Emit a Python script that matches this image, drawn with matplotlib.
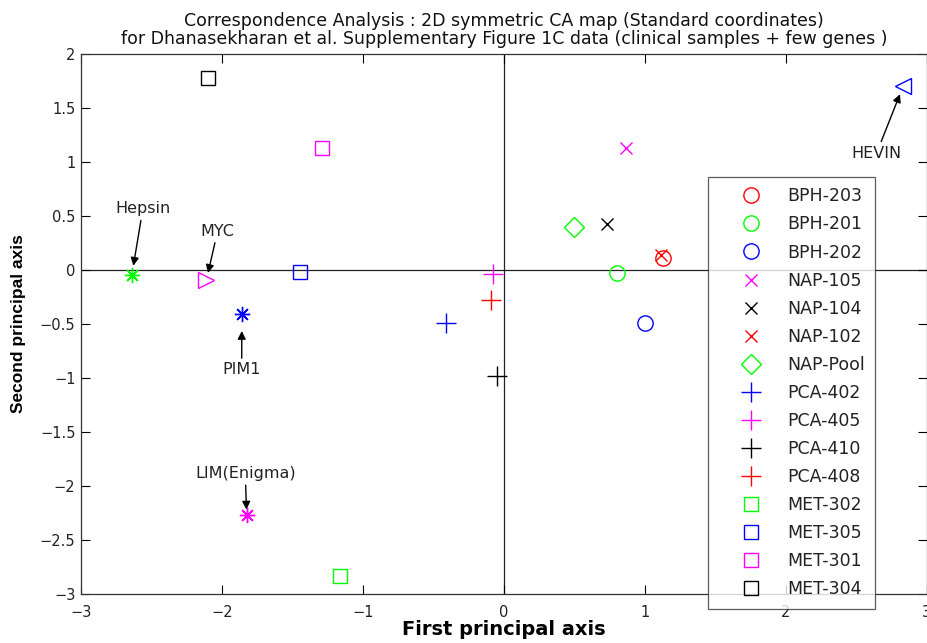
import matplotlib
matplotlib.use("Agg")
import matplotlib.pyplot as plt

# sample coordinates (standard coordinates)
samples = ["BPH-203", "BPH-201", "BPH-202", "NAP-105", "NAP-104", "NAP-102",
           "NAP-Pool", "PCA-402", "PCA-405", "PCA-410", "PCA-408",
           "MET-302", "MET-305", "MET-301", "MET-304"]
sample_x = [1.13, 0.80, 1.00, 0.865, 0.73, 1.11, 0.50, -0.41, -0.08, -0.05, -0.095,
            -1.16, -1.45, -1.29, -2.10]
sample_y = [0.115, -0.03, -0.49, 1.13, 0.43, 0.14, 0.40, -0.49, -0.04, -0.98, -0.28,
            -2.83, -0.02, 1.13, 1.78]
sample_marker = ["o", "o", "o", "x", "x", "x", "D", "+", "+", "+", "+",
                 "s", "s", "s", "s"]
sample_color = ["#ff0000", "#00ff00", "#0000ff", "#ff00ff", "#000000", "#ff0000",
                "#00ff00", "#0000ff", "#ff00ff", "#000000", "#ff0000",
                "#00ff00", "#0000ff", "#ff00ff", "#000000"]

# gene coordinates
genes = ["Hepsin", "MYC", "PIM1", "LIM(Enigma)", "HEVIN"]
gene_x = [-2.64, -2.11, -1.86, -1.825, 2.83]
gene_y = [-0.05, -0.09, -0.41, -2.27, 1.70]
gene_marker = [(8, 2, 0), ">", (8, 2, 0), (8, 2, 0), "<"]
gene_color = ["#00ff00", "#ff00ff", "#0000ff", "#ff00ff", "#0000ff"]
# label offset from the point (points) and arrow gap at the point
gene_offset = [(8, 48), (8, 35), (0, -40), (-1, 30), (-19, -48)]
gene_gap = [7, 5, 12, 4, 6]

plt.rcParams["font.family"] = ["DejaVu Sans"]

fig = plt.figure(figsize=(9.28, 6.43), dpi=100)
ax = fig.add_axes([81 / 928, 1 - 594 / 643, 846 / 928, 540 / 643])

ax.axhline(0, color="#222222", lw=0.9, zorder=1)
ax.axvline(0, color="#222222", lw=0.9, zorder=1)

sizes = {"o": 11, "x": 9, "D": 10, "+": 14, "s": 10}
handles = []
for name, x, y, m, c in zip(samples, sample_x, sample_y, sample_marker, sample_color):
    h, = ax.plot(x, y, linestyle="none", marker=m, ms=sizes[m], mfc="none",
                 mec=c, mew=1.0, label=name, zorder=3)
    handles.append(h)

for name, x, y, m, c, off, gap in zip(genes, gene_x, gene_y, gene_marker,
                                       gene_color, gene_offset, gene_gap):
    ax.plot(x, y, linestyle="none", marker=m, ms=11, mfc="none",
            mec=c, mew=1.0, zorder=3)
    ax.annotate(name, xy=(x, y), xytext=off, textcoords="offset points",
                ha="center", va="center", fontsize=11.5, color="#222222",
                arrowprops=dict(arrowstyle="-|>", color="k", lw=1.0,
                                mutation_scale=12, shrinkA=1, shrinkB=gap))

ax.set_xlim(-3, 3)
ax.set_ylim(-3, 2)
ax.set_xticks([-3, -2, -1, 0, 1, 2, 3])
ax.set_yticks([-3, -2.5, -2, -1.5, -1, -0.5, 0, 0.5, 1, 1.5, 2])
ax.set_yticklabels(["−3", "−2.5", "−2", "−1.5", "−1", "−0.5", "0", "0.5", "1", "1.5", "2"])
ax.set_xticklabels(["−3", "−2", "−1", "0", "1", "2", "3"])
ax.tick_params(direction="in", length=6.5, width=0.8, top=True, right=True,
               labelsize=10.5, labelcolor="#222222")
ax.tick_params(axis="x", pad=8)
ax.tick_params(axis="y", pad=4)
for s in ax.spines.values():
    s.set_linewidth(0.9)
    s.set_color("#333333")

ax.set_xlabel("First principal axis", fontsize=14, fontweight="bold", labelpad=0)
ax.set_ylabel("Second principal axis", fontsize=12.5, fontweight="bold",
              family="Liberation Sans", labelpad=10)
ax.set_title("Correspondence Analysis : 2D symmetric CA map (Standard coordinates)\n"
             "for Dhanasekharan et al. Supplementary Figure 1C data (clinical samples + few genes )",
             fontsize=12.5, pad=7, linespacing=1.05, color="#111111")

leg = ax.legend(handles=handles, loc="upper left",
                bbox_to_anchor=(708 / 928, 1 - 177 / 643), bbox_transform=fig.transFigure,
                borderaxespad=0, fontsize=12.5, frameon=True, fancybox=False,
                edgecolor="#333333", labelspacing=0.58, handlelength=3.8,
                handletextpad=0.15, borderpad=0.6, numpoints=1, labelcolor="#222222")
leg.get_frame().set_linewidth(0.9)
leg.set_zorder(5)

fig.savefig("out.png", dpi=100)
